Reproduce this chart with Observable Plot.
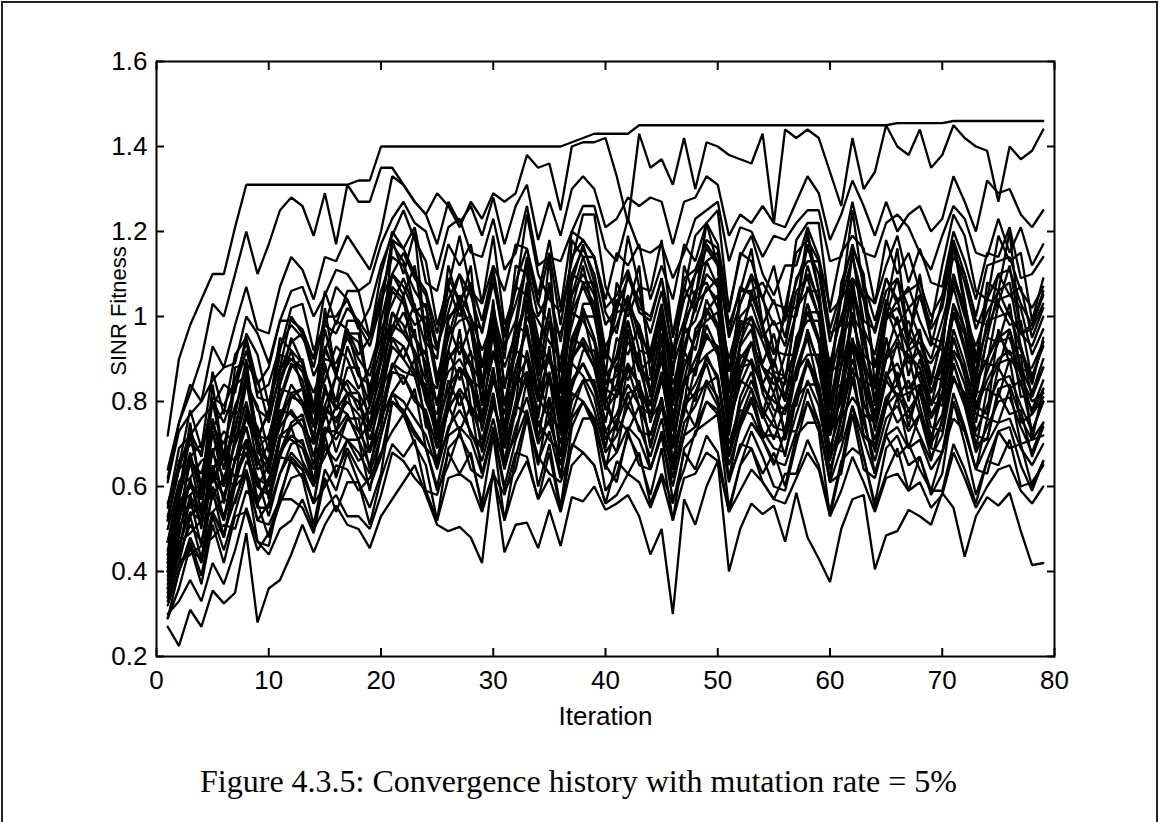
<!DOCTYPE html>
<html>
<head>
<meta charset="utf-8">
<script src="https://cdn.jsdelivr.net/npm/d3@7"></script>
<script src="https://cdn.jsdelivr.net/npm/@observablehq/plot@0.6"></script>
<style>
html,body{margin:0;padding:0;background:#fff;}
#page{position:relative;width:1159px;height:822px;overflow:hidden;background:#fff;}
#chart{position:absolute;left:0;top:0;}
#border{position:absolute;left:1px;top:1px;width:1153px;height:830px;border:2px solid #222;border-bottom:none;pointer-events:none;}
#caption{position:absolute;left:0;width:1157px;top:765px;line-height:32px;text-align:center;font-family:"Liberation Serif","Times New Roman",serif;font-size:32px;color:#000;white-space:nowrap;}
</style>
</head>
<body>
<div id="page">
  <div id="chart"></div>
  <div id="border"></div>
  <div id="caption"></div>
</div>
<script>
// ---- tick values / labels ----
const xTicks = [0, 10, 20, 30, 40, 50, 60, 70, 80];
const xTickLabels = ["0", "10", "20", "30", "40", "50", "60", "70", "80"];
const yTicks = [0.2, 0.4, 0.6, 0.8, 1.0, 1.2, 1.4, 1.6];
const yTickLabels = ["0.2", "0.4", "0.6", "0.8", "1", "1.2", "1.4", "1.6"];
const xTitle = "Iteration";
const yTitle = "SINR Fitness";
const captionText = "Figure 4.3.5: Convergence history with mutation rate = 5%";

// iterations 1..79
const iterations = d3.range(1, 80);

// ---- fitness histories (one array per population member) ----
const best = [0.72,0.90,0.98,1.04,1.10,1.10,1.21,1.31,1.31,1.31, 1.31,1.31,1.31,1.31,1.31,1.31,1.31,1.32,1.32,1.40,
  1.40,1.40,1.40,1.40,1.40,1.40,1.40,1.40,1.40,1.40, 1.40,1.40,1.40,1.40,1.40,1.40,1.41,1.42,1.43,1.43,
  1.43,1.43,1.45,1.45,1.45,1.45,1.45,1.45,1.45,1.45, 1.45,1.45,1.45,1.45,1.45,1.45,1.45,1.45,1.45,1.45,
  1.45,1.45,1.45,1.45,1.45,1.455,1.455,1.455,1.455,1.455, 1.46,1.46,1.46,1.46,1.46,1.46,1.46,1.46,1.46];
const s02 = [0.62,0.75,0.82,0.90,1.03,1.00,1.10,1.20,1.10,1.17, 1.25,1.28,1.26,1.19,1.29,1.17,1.31,1.27,1.27,1.35,
  1.35,1.31,1.27,1.24,1.29,1.26,1.21,1.27,1.23,1.29, 1.27,1.29,1.38,1.35,1.36,1.25,1.40,1.41,1.41,1.42,
  1.33,1.22,1.43,1.35,1.37,1.31,1.42,1.30,1.41,1.40, 1.38,1.37,1.36,1.43,1.22,1.44,1.42,1.44,1.42,1.34,
  1.26,1.42,1.30,1.34,1.45,1.40,1.38,1.44,1.35,1.38, 1.45,1.42,1.40,1.39,1.27,1.40,1.37,1.39,1.44];
const s03 = [0.64,0.75,0.84,0.80,0.93,0.88,0.98,1.07,0.97,0.96, 1.07,1.14,1.11,1.04,1.14,1.13,1.19,1.15,1.11,1.20,
  1.33,1.31,1.27,1.24,1.17,1.27,1.22,1.26,1.19,1.28, 1.17,1.26,1.31,1.18,1.27,1.19,1.30,1.33,1.30,1.21,
  1.23,1.28,1.26,1.28,1.27,1.17,1.27,1.28,1.33,1.31, 1.19,1.24,1.22,1.26,1.22,1.21,1.27,1.33,1.29,1.18,
  1.24,1.32,1.26,1.19,1.27,1.20,1.24,1.26,1.20,1.23, 1.33,1.27,1.20,1.32,1.29,1.30,1.24,1.21,1.25];
const s04 = [0.61,0.73,0.77,0.80,0.85,0.88,0.89,1.00,0.96,0.89, 0.99,1.06,1.07,1.00,1.05,1.11,1.10,1.06,1.08,1.17,
  1.23,1.27,1.22,1.20,1.11,1.21,1.23,1.15,1.14,1.23, 1.11,1.15,1.26,1.12,1.14,1.13,1.20,1.26,1.26,1.16,
  1.13,1.23,1.16,1.15,1.17,1.09,1.15,1.23,1.25,1.27, 1.13,1.21,1.20,1.14,1.19,1.18,1.22,1.25,1.25,1.13,
  1.14,1.27,1.15,1.14,1.22,1.24,1.21,1.15,1.11,1.19, 1.26,1.23,1.15,1.14,1.23,1.15,1.21,1.12,1.17];
const s05 = [0.56,0.65,0.78,0.69,0.87,0.77,0.91,0.95,0.84,0.88, 0.99,0.99,0.97,0.90,1.06,0.98,1.06,1.06,0.95,1.10,
  1.20,1.16,1.21,1.08,1.06,1.17,1.12,1.17,1.03,1.12, 1.06,1.17,1.16,1.05,1.18,1.02,1.20,1.18,1.14,1.04,
  1.15,1.12,1.17,1.04,1.12,1.04,1.17,1.13,1.22,1.17, 1.02,1.14,1.19,1.10,1.05,1.12,1.12,1.21,1.14,1.02,
  1.15,1.19,1.16,1.03,1.12,1.19,1.08,1.16,1.08,1.07, 1.20,1.13,1.04,1.15,1.14,1.21,1.09,1.10,1.14];
const s06 = [0.53,0.64,0.73,0.67,0.81,0.79,0.85,0.94,0.81,0.80, 0.88,1.00,0.96,0.88,1.00,1.00,1.04,0.98,0.93,1.03,
  1.18,1.16,1.10,1.06,0.96,1.09,1.04,1.08,0.99,1.11, 0.96,1.08,1.16,1.03,1.15,0.98,1.14,1.18,1.14,1.02,
  1.05,1.11,1.02,1.00,1.09,0.96,1.09,1.11,1.18,1.16, 0.98,1.06,1.06,1.08,1.03,1.02,1.15,1.18,1.13,0.97,
  1.06,1.17,1.08,0.99,1.09,1.04,1.06,1.08,1.00,1.05, 1.18,1.10,1.00,1.12,1.13,1.14,1.06,1.02,1.07];
const s07 = [0.52,0.64,0.67,0.70,0.74,0.78,0.77,0.89,0.85,0.75, 0.87,0.94,0.96,0.86,0.92,0.99,0.97,0.91,0.95,1.04,
  1.10,1.15,1.09,1.05,0.93,1.01,1.10,0.99,0.97,1.10, 0.93,0.99,1.14,1.03,0.98,0.96,1.05,1.14,1.14,1.01,
  0.96,1.10,1.01,0.99,1.09,0.91,0.99,1.10,1.13,1.15, 0.96,1.07,1.05,0.98,1.04,0.95,1.09,1.13,1.13,0.96,
  0.98,1.15,0.99,0.97,1.09,1.03,1.07,0.99,0.93,1.04, 1.14,1.10,0.99,0.98,1.10,1.05,1.07,0.95,1.02];
const s08 = [0.47,0.57,0.72,0.60,0.80,0.67,0.84,0.86,0.72,0.77, 0.91,0.90,0.87,0.78,0.97,0.86,0.96,0.96,0.82,0.99,
  1.10,1.05,1.12,0.95,0.92,1.07,1.00,1.07,0.88,1.00, 0.92,1.07,1.05,0.91,1.08,0.87,1.10,1.08,1.03,0.90,
  1.04,1.00,1.07,0.90,1.00,0.90,1.07,1.01,1.13,1.07, 0.87,1.03,1.09,0.97,0.91,1.00,1.00,1.12,1.03,0.87,
  1.04,1.09,1.05,0.88,1.00,1.09,0.95,1.05,0.95,0.94, 1.10,1.01,0.90,1.04,1.03,1.12,0.96,0.97,1.03];
const s09 = [0.47,0.52,0.67,0.60,0.75,0.67,0.73,0.87,0.72,0.71, 0.84,0.92,0.83,0.78,0.92,0.87,0.96,0.94,0.83,0.93,
  1.10,1.07,1.01,1.03,0.84,1.00,1.02,0.98,0.88,1.02, 0.84,0.92,1.07,0.92,1.01,0.87,1.05,1.10,1.05,0.90,
  1.01,1.02,0.98,0.89,1.00,0.84,0.93,1.02,1.10,1.07, 0.87,0.96,1.04,1.05,0.92,0.91,1.01,1.10,1.04,0.85,
  0.96,1.09,1.04,0.88,1.00,1.02,0.96,0.91,0.89,0.94, 1.10,1.01,0.89,0.97,1.04,1.05,1.02,0.91,0.97];
const s10 = [0.47,0.60,0.62,0.66,0.68,0.73,0.70,0.84,0.79,0.68, 0.80,0.88,0.90,0.79,0.85,0.93,0.90,0.83,0.88,0.97,
  1.03,1.09,1.02,0.98,0.84,0.92,1.03,0.91,0.88,1.03, 0.84,0.91,1.08,0.95,0.89,0.87,0.98,1.08,1.08,0.92,
  0.87,1.03,0.92,0.91,1.02,0.81,0.91,1.03,1.06,1.09, 0.87,0.99,0.98,0.89,0.96,0.85,1.02,1.06,1.06,0.87,
  0.89,1.09,0.91,0.88,1.02,0.95,0.99,0.91,0.84,0.96, 1.08,1.03,0.91,0.89,1.03,0.98,0.99,0.85,0.94];
const s11 = [0.44,0.56,0.61,0.57,0.73,0.64,0.74,0.85,0.69,0.72, 0.81,0.89,0.85,0.74,0.88,0.80,0.93,0.86,0.84,0.89,
  1.07,1.04,0.90,0.92,0.79,0.96,0.99,1.00,0.83,0.99, 0.79,0.94,1.04,0.87,0.91,0.82,1.01,1.07,1.01,0.86,
  0.90,0.99,0.88,0.85,0.96,0.79,0.96,0.99,1.07,1.04, 0.82,0.98,1.00,0.94,0.87,0.86,0.92,1.07,1.00,0.80,
  0.92,1.06,0.94,0.83,1.01,0.99,0.92,0.94,0.85,0.95, 1.07,0.97,0.85,0.99,1.00,1.01,0.92,0.86,0.93];
const s12 = [0.42,0.52,0.66,0.54,0.73,0.60,0.77,0.79,0.65,0.70, 0.83,0.82,0.79,0.71,0.89,0.78,0.88,0.88,0.74,0.90,
  1.01,0.96,1.03,0.86,0.83,0.98,0.91,0.98,0.79,0.91, 0.83,0.98,0.96,0.82,0.99,0.78,1.01,0.99,0.94,0.81,
  0.95,0.91,0.98,0.81,0.91,0.81,0.98,0.92,1.04,0.98, 0.78,0.94,1.00,0.88,0.82,0.91,0.91,1.03,0.94,0.78,
  0.95,1.00,0.96,0.79,0.91,1.00,0.86,0.96,0.86,0.85, 1.01,0.92,0.81,0.95,0.94,1.03,0.87,0.88,0.94];
const s13 = [0.44,0.56,0.58,0.61,0.64,0.68,0.66,0.78,0.74,0.64, 0.75,0.82,0.83,0.74,0.79,0.86,0.84,0.78,0.82,0.90,
  0.96,1.01,0.95,0.91,0.79,0.87,0.90,0.85,0.83,0.96, 0.79,0.85,1.00,0.94,0.84,0.82,0.91,1.00,1.00,0.87,
  0.82,0.96,0.87,0.90,0.95,0.77,0.85,0.96,0.99,1.01, 0.82,0.93,0.97,0.84,0.90,0.81,0.95,0.99,0.99,0.82,
  0.84,1.01,0.85,0.83,0.95,0.84,0.93,0.85,0.79,0.90, 1.00,0.96,0.85,0.90,0.96,0.91,0.93,0.81,0.88];
const s14 = [0.41,0.52,0.61,0.53,0.63,0.60,0.70,0.80,0.69,0.63, 0.76,0.84,0.80,0.74,0.83,0.78,0.82,0.80,0.74,0.84,
  1.01,0.98,0.91,0.80,0.73,0.90,0.93,0.88,0.77,0.87, 0.73,0.88,0.98,0.81,0.91,0.76,0.95,1.01,0.89,0.80,
  0.84,0.99,0.88,0.79,0.90,0.73,0.90,0.87,1.01,0.98, 0.76,0.86,0.94,0.88,0.86,0.80,0.91,1.01,0.94,0.74,
  0.80,1.00,0.88,0.77,0.90,0.93,0.91,0.88,0.79,0.84, 1.01,0.96,0.79,0.87,0.94,0.95,0.86,0.80,0.82];
const s15 = [0.39,0.48,0.62,0.50,0.69,0.56,0.72,0.74,0.60,0.65, 0.78,0.77,0.74,0.65,0.84,0.73,0.82,0.82,0.68,0.84,
  0.95,0.90,0.97,0.80,0.77,0.92,0.85,0.92,0.73,0.85, 0.77,0.92,0.90,0.76,0.93,0.72,0.95,0.93,0.88,0.75,
  0.89,0.85,0.92,0.75,0.85,0.75,0.92,0.86,0.98,0.92, 0.72,0.88,0.94,0.82,0.76,0.85,0.85,0.97,0.88,0.72,
  0.89,0.94,0.90,0.73,0.85,0.94,0.80,0.90,0.80,0.79, 0.95,0.86,0.75,0.89,0.88,0.97,0.81,0.82,0.88];
const s16 = [0.40,0.45,0.58,0.51,0.65,0.57,0.66,0.71,0.62,0.60, 0.72,0.74,0.76,0.67,0.79,0.75,0.82,0.80,0.71,0.80,
  0.95,0.93,0.87,0.82,0.71,0.80,0.88,0.84,0.75,0.88, 0.71,0.84,0.87,0.78,0.87,0.73,0.90,0.95,0.90,0.83,
  0.81,0.88,0.84,0.76,0.80,0.71,0.85,0.88,0.95,0.93, 0.73,0.88,0.89,0.84,0.78,0.77,0.87,0.95,0.83,0.72,
  0.82,0.94,0.84,0.75,0.85,0.81,0.82,0.84,0.76,0.81, 0.95,0.87,0.82,0.83,0.89,0.90,0.87,0.77,0.83];
const s17 = [0.40,0.51,0.53,0.56,0.58,0.62,0.60,0.71,0.67,0.58, 0.68,0.75,0.77,0.67,0.72,0.79,0.77,0.71,0.75,0.83,
  0.88,0.93,0.87,0.83,0.71,0.79,0.88,0.77,0.75,0.88, 0.71,0.77,0.92,0.81,0.76,0.74,0.83,0.92,0.92,0.79,
  0.74,0.88,0.79,0.77,0.87,0.69,0.77,0.88,0.91,0.93, 0.74,0.85,0.83,0.76,0.82,0.73,0.87,0.91,0.91,0.74,
  0.76,0.93,0.77,0.75,0.87,0.81,0.85,0.77,0.71,0.82, 0.92,0.88,0.77,0.76,0.88,0.83,0.85,0.73,0.80];
const s18 = [0.36,0.45,0.57,0.46,0.64,0.52,0.67,0.68,0.56,0.61, 0.72,0.71,0.69,0.61,0.78,0.68,0.76,0.76,0.64,0.78,
  0.89,0.84,0.90,0.74,0.72,0.85,0.79,0.85,0.68,0.79, 0.72,0.85,0.84,0.71,0.86,0.67,0.89,0.86,0.81,0.69,
  0.83,0.79,0.85,0.69,0.79,0.69,0.85,0.80,0.91,0.85, 0.67,0.81,0.87,0.77,0.71,0.79,0.79,0.90,0.81,0.67,
  0.83,0.87,0.84,0.68,0.79,0.87,0.74,0.84,0.74,0.73, 0.89,0.80,0.69,0.83,0.81,0.90,0.75,0.77,0.81];
const s19 = [0.36,0.46,0.54,0.52,0.60,0.53,0.62,0.70,0.57,0.62, 0.67,0.74,0.66,0.61,0.73,0.73,0.77,0.71,0.65,0.74,
  0.89,0.87,0.86,0.76,0.65,0.79,0.82,0.72,0.69,0.82, 0.65,0.78,0.87,0.72,0.75,0.67,0.84,0.89,0.84,0.71,
  0.75,0.82,0.83,0.70,0.79,0.65,0.79,0.82,0.89,0.80, 0.67,0.76,0.83,0.72,0.72,0.71,0.81,0.89,0.83,0.66,
  0.76,0.88,0.72,0.69,0.79,0.82,0.76,0.83,0.70,0.75, 0.89,0.81,0.70,0.71,0.83,0.84,0.76,0.71,0.72];
const s20 = [0.37,0.47,0.49,0.52,0.54,0.57,0.56,0.66,0.62,0.53, 0.63,0.70,0.71,0.62,0.67,0.73,0.71,0.66,0.69,0.76,
  0.82,0.86,0.81,0.77,0.66,0.73,0.82,0.72,0.70,0.82, 0.66,0.72,0.85,0.75,0.71,0.68,0.77,0.85,0.85,0.73,
  0.68,0.82,0.73,0.72,0.81,0.64,0.72,0.82,0.84,0.86, 0.68,0.78,0.77,0.71,0.76,0.67,0.81,0.84,0.84,0.68,
  0.71,0.86,0.72,0.70,0.81,0.75,0.78,0.72,0.66,0.76, 0.85,0.82,0.72,0.71,0.82,0.77,0.78,0.67,0.74];
const s21 = [0.34,0.42,0.53,0.43,0.59,0.48,0.62,0.63,0.52,0.56, 0.67,0.66,0.64,0.56,0.72,0.62,0.71,0.71,0.59,0.72,
  0.82,0.77,0.83,0.69,0.66,0.79,0.73,0.79,0.63,0.73, 0.66,0.79,0.77,0.65,0.80,0.62,0.82,0.80,0.75,0.64,
  0.76,0.73,0.79,0.64,0.73,0.64,0.79,0.74,0.84,0.79, 0.62,0.75,0.81,0.71,0.65,0.73,0.73,0.83,0.75,0.62,
  0.76,0.81,0.77,0.63,0.73,0.81,0.69,0.77,0.69,0.68, 0.82,0.74,0.64,0.76,0.75,0.83,0.70,0.71,0.75];
const s22 = [0.34,0.42,0.45,0.43,0.54,0.48,0.60,0.63,0.52,0.51, 0.57,0.67,0.64,0.56,0.70,0.63,0.69,0.64,0.60,0.67,
  0.80,0.78,0.73,0.69,0.60,0.72,0.74,0.71,0.63,0.74, 0.60,0.71,0.78,0.66,0.73,0.62,0.76,0.80,0.76,0.65,
  0.68,0.74,0.71,0.64,0.72,0.60,0.72,0.74,0.80,0.78, 0.62,0.69,0.75,0.71,0.66,0.65,0.73,0.80,0.75,0.61,
  0.69,0.79,0.71,0.63,0.72,0.74,0.69,0.71,0.64,0.68, 0.80,0.73,0.64,0.70,0.75,0.76,0.69,0.65,0.70];
const s23 = [0.33,0.42,0.44,0.46,0.48,0.51,0.50,0.59,0.56,0.48, 0.56,0.62,0.63,0.56,0.60,0.65,0.64,0.59,0.62,0.68,
  0.73,0.77,0.72,0.69,0.59,0.65,0.73,0.64,0.62,0.73, 0.59,0.64,0.76,0.67,0.63,0.61,0.69,0.76,0.76,0.65,
  0.61,0.73,0.65,0.64,0.72,0.57,0.64,0.73,0.75,0.77, 0.61,0.70,0.69,0.63,0.68,0.60,0.72,0.75,0.75,0.61,
  0.63,0.77,0.64,0.62,0.72,0.67,0.70,0.64,0.59,0.68, 0.76,0.73,0.64,0.63,0.73,0.69,0.70,0.60,0.66];
const s24 = [0.29,0.36,0.46,0.37,0.51,0.42,0.53,0.54,0.45,0.49, 0.57,0.57,0.55,0.49,0.62,0.54,0.61,0.61,0.51,0.62,
  0.70,0.67,0.71,0.59,0.58,0.68,0.63,0.68,0.55,0.63, 0.58,0.68,0.67,0.57,0.68,0.54,0.70,0.68,0.65,0.56,
  0.66,0.63,0.68,0.56,0.63,0.56,0.68,0.64,0.72,0.68, 0.54,0.65,0.69,0.61,0.57,0.63,0.63,0.71,0.65,0.54,
  0.66,0.69,0.67,0.55,0.63,0.69,0.59,0.67,0.59,0.59, 0.70,0.64,0.56,0.66,0.65,0.71,0.60,0.61,0.65];
const s25 = [0.30,0.33,0.38,0.33,0.42,0.37,0.45,0.55,0.47,0.44, 0.50,0.52,0.57,0.50,0.55,0.58,0.53,0.53,0.50,0.58,
  0.68,0.66,0.62,0.59,0.52,0.62,0.63,0.61,0.54,0.63, 0.52,0.61,0.66,0.57,0.62,0.54,0.65,0.68,0.65,0.56,
  0.58,0.63,0.61,0.55,0.62,0.52,0.62,0.63,0.68,0.66, 0.54,0.59,0.64,0.61,0.57,0.56,0.62,0.68,0.64,0.53,
  0.59,0.67,0.61,0.54,0.62,0.63,0.59,0.61,0.55,0.58, 0.68,0.62,0.55,0.60,0.64,0.65,0.59,0.56,0.60];
const s26 = [0.42,0.57,0.68,0.57,0.76,0.64,0.77,0.90,0.68,0.66, 0.84,0.95,0.89,0.74,0.93,0.86,0.97,0.87,0.79,0.91,
  1.17,1.13,1.02,0.93,0.73,0.99,1.04,0.97,0.80,1.04, 0.73,0.97,1.13,0.86,1.02,0.77,1.08,1.17,1.08,0.84,
  0.91,1.04,0.97,0.82,0.99,0.73,0.99,1.04,1.17,1.13, 0.77,0.93,1.06,0.97,0.86,0.84,1.02,1.17,1.06,0.75,
  0.93,1.15,0.97,0.80,0.99,1.04,0.93,0.97,0.82,0.91, 1.17,1.02,0.82,0.95,1.06,1.08,0.93,0.84,0.95];
const s27 = [0.40,0.55,0.55,0.60,0.61,0.67,0.62,0.77,0.72,0.57, 0.71,0.81,0.83,0.70,0.76,0.86,0.82,0.73,0.79,0.89,
  0.97,1.05,0.95,0.89,0.69,0.81,0.97,0.79,0.75,0.97, 0.69,0.79,1.03,0.85,0.77,0.73,0.89,1.03,1.03,0.81,
  0.73,0.97,0.81,0.79,0.95,0.65,0.79,0.97,1.01,1.05, 0.73,0.91,0.89,0.77,0.87,0.71,0.95,1.01,1.01,0.73,
  0.77,1.05,0.79,0.75,0.95,0.85,0.91,0.79,0.69,0.87, 1.03,0.97,0.79,0.77,0.97,0.89,0.91,0.71,0.83];
const s28 = [0.45,0.58,0.75,0.58,0.84,0.66,0.88,0.89,0.71,0.78, 0.95,0.92,0.89,0.77,1.02,0.86,0.99,0.99,0.80,1.02,
  1.18,1.10,1.20,0.94,0.90,1.12,1.02,1.12,0.84,1.02, 0.90,1.12,1.10,0.88,1.14,0.82,1.18,1.14,1.06,0.86,
  1.08,1.02,1.12,0.86,1.02,0.86,1.12,1.04,1.22,1.12, 0.82,1.06,1.16,0.98,0.88,1.02,1.02,1.20,1.06,0.82,
  1.08,1.16,1.10,0.84,1.02,1.16,0.94,1.10,0.94,0.92, 1.18,1.04,0.86,1.08,1.06,1.20,0.96,0.98,1.06];
const s29 = [0.29,0.40,0.47,0.39,0.53,0.45,0.54,0.63,0.47,0.46, 0.58,0.66,0.62,0.51,0.64,0.59,0.68,0.61,0.55,0.63,
  0.80,0.77,0.70,0.65,0.52,0.69,0.72,0.67,0.56,0.72, 0.52,0.67,0.77,0.60,0.70,0.55,0.74,0.80,0.74,0.59,
  0.63,0.72,0.67,0.58,0.69,0.52,0.69,0.72,0.80,0.77, 0.55,0.65,0.73,0.67,0.60,0.59,0.70,0.80,0.73,0.53,
  0.65,0.79,0.67,0.56,0.69,0.72,0.65,0.67,0.58,0.63, 0.80,0.70,0.58,0.66,0.73,0.74,0.65,0.59,0.66];
const s30 = [0.55,0.69,0.72,0.76,0.79,0.84,0.82,0.96,0.91,0.79, 0.92,1.02,1.03,0.92,0.98,1.07,1.04,0.97,1.02,1.12,
  1.19,1.25,1.18,1.13,0.98,1.07,1.19,1.06,1.03,1.19, 0.98,1.06,1.24,1.10,1.04,1.01,1.13,1.24,1.24,1.07,
  1.01,1.19,1.07,1.06,1.18,0.95,1.06,1.19,1.22,1.25, 1.01,1.15,1.13,1.04,1.12,0.99,1.18,1.22,1.22,1.01,
  1.04,1.25,1.06,1.03,1.18,1.10,1.15,1.06,0.98,1.12, 1.24,1.19,1.06,1.04,1.19,1.13,1.15,0.99,1.09];
const s31 = [0.50,0.61,0.66,0.63,0.74,0.70,0.79,0.85,0.78,0.76, 0.86,0.90,0.88,0.82,0.90,0.89,0.95,0.90,0.86,0.95,
  1.06,1.03,0.98,1.00,0.86,0.95,1.05,1.00,0.92,0.99, 0.88,0.96,1.04,0.99,0.94,0.90,1.02,1.12,1.00,0.93,
  0.98,1.05,0.95,0.92,1.03,0.88,0.97,1.06,1.08,1.02, 0.90,1.00,1.03,0.95,0.99,0.93,1.06,1.09,1.00,0.89,
  1.00,1.07,0.97,0.91,1.04,0.98,1.02,0.95,0.90,0.99, 1.09,1.00,0.93,1.01,1.06,1.00,0.96,0.93,1.00];
const s32 = [0.43,0.55,0.60,0.57,0.68,0.62,0.70,0.76,0.70,0.66, 0.77,0.81,0.80,0.72,0.82,0.80,0.85,0.82,0.77,0.86,
  0.98,0.96,0.92,0.85,0.80,0.90,0.94,0.89,0.84,0.92, 0.80,0.88,0.97,0.86,0.90,0.80,0.93,1.02,0.95,0.84,
  0.86,0.94,0.90,0.82,0.92,0.76,0.88,0.95,1.02,0.97, 0.80,0.90,0.94,0.88,0.84,0.86,0.92,1.03,0.95,0.79,
  0.88,0.99,0.90,0.81,0.90,0.95,0.89,0.92,0.82,0.88, 1.03,0.93,0.84,0.90,0.95,0.97,0.88,0.82,0.90];
const s33 = [0.38,0.50,0.57,0.52,0.62,0.58,0.66,0.74,0.64,0.66, 0.74,0.78,0.74,0.70,0.78,0.76,0.80,0.77,0.73,0.82,
  0.93,0.90,0.86,0.84,0.74,0.83,0.88,0.85,0.76,0.86, 0.74,0.85,0.90,0.80,0.86,0.75,0.90,0.94,0.88,0.78,
  0.82,0.89,0.84,0.77,0.86,0.70,0.84,0.90,0.96,0.91, 0.75,0.84,0.90,0.83,0.80,0.78,0.88,0.96,0.89,0.74,
  0.84,0.95,0.85,0.76,0.86,0.89,0.83,0.87,0.77,0.82, 0.97,0.89,0.78,0.85,0.90,0.92,0.84,0.78,0.85];
const s34 = [0.35,0.44,0.51,0.47,0.58,0.52,0.62,0.68,0.60,0.58, 0.68,0.72,0.70,0.64,0.74,0.71,0.76,0.73,0.68,0.76,
  0.87,0.86,0.80,0.78,0.69,0.78,0.83,0.79,0.71,0.80, 0.69,0.80,0.86,0.74,0.81,0.70,0.85,0.89,0.83,0.73,
  0.77,0.84,0.79,0.72,0.81,0.66,0.80,0.84,0.90,0.86, 0.70,0.79,0.85,0.78,0.74,0.73,0.82,0.90,0.84,0.69,
  0.78,0.90,0.80,0.71,0.81,0.84,0.78,0.82,0.72,0.77, 0.91,0.84,0.73,0.79,0.85,0.86,0.79,0.73,0.80];
const s35 = [0.52,0.66,0.70,0.68,0.80,0.75,0.83,0.92,0.82,0.84, 0.93,0.98,0.95,0.90,0.98,0.96,1.02,0.99,0.95,1.06,
  1.14,1.12,1.06,1.02,0.92,1.04,1.10,1.05,0.96,1.08, 0.95,1.03,1.12,1.00,1.06,0.94,1.10,1.16,1.10,0.98,
  1.02,1.09,1.04,0.96,1.06,0.92,1.04,1.10,1.16,1.12, 0.95,1.03,1.10,1.04,0.98,0.99,1.08,1.16,1.10,0.94,
  1.04,1.14,1.04,0.96,1.06,1.09,1.02,1.05,0.97,1.02, 1.16,1.08,0.97,1.04,1.10,1.11,1.03,0.98,1.05];
const s36 = [0.32,0.40,0.48,0.42,0.54,0.49,0.57,0.64,0.55,0.55, 0.63,0.68,0.65,0.60,0.69,0.66,0.71,0.68,0.63,0.72,
  0.82,0.80,0.76,0.72,0.64,0.74,0.78,0.73,0.66,0.76, 0.64,0.74,0.81,0.70,0.76,0.65,0.80,0.85,0.78,0.68,
  0.72,0.79,0.74,0.67,0.76,0.62,0.75,0.79,0.85,0.81, 0.65,0.74,0.80,0.73,0.69,0.68,0.77,0.85,0.79,0.64,
  0.73,0.85,0.75,0.66,0.76,0.79,0.73,0.77,0.67,0.72, 0.86,0.79,0.68,0.74,0.80,0.81,0.74,0.68,0.75];
const lowest = [0.27,0.225,0.31,0.27,0.355,0.325,0.35,0.49,0.28,0.36, 0.38,0.44,0.51,0.445,0.51,0.555,0.51,0.50,0.455,0.53,
  0.57,0.61,0.65,0.58,0.51,0.495,0.505,0.48,0.42,0.64, 0.445,0.51,0.515,0.455,0.545,0.46,0.575,0.565,0.60,0.545,
  0.56,0.58,0.53,0.44,0.50,0.30,0.57,0.51,0.60,0.66, 0.40,0.50,0.56,0.535,0.555,0.47,0.585,0.48,0.43,0.375,
  0.50,0.57,0.58,0.405,0.485,0.495,0.545,0.53,0.51,0.585, 0.55,0.435,0.53,0.575,0.555,0.585,0.495,0.415,0.42];

const runs = [best, s02, s03, s04, s05, s06, s07, s08, s09, s10, s11, s12, s13, s14, s15,
  s16, s17, s18, s19, s20, s21, s22, s23, s24, s25, s26, s27, s28, s29, s30,
  s31, s32, s33, s34, s35, s36, lowest];

const table = runs.flatMap((vals, k) => vals.map((v, i) => ({iteration: iterations[i], fitness: v, run: k})));

const font = "'Liberation Sans', Arial, Helvetica, sans-serif";

const chart = Plot.plot({
  width: 1159,
  height: 740,
  marginLeft: 156,
  marginRight: 105,
  marginTop: 61,
  marginBottom: 84,
  style: {fontFamily: font, fontSize: "26px", color: "black", background: "white", overflow: "visible"},
  x: {domain: [0, 80], label: null},
  y: {domain: [0.2, 1.6], label: null},
  marks: [
    Plot.line(table, {x: "iteration", y: "fitness", z: "run", stroke: "black", strokeWidth: 2.3, strokeLinejoin: "miter"}),
    Plot.frame({stroke: "black", strokeWidth: 2}),
    // inward ticks on all four sides
    Plot.axisX(xTicks, {anchor: "bottom", tickSize: 8, dy: -8, tickFormat: () => "", label: null, strokeWidth: 2}),
    Plot.axisX(xTicks, {anchor: "top", tickSize: 8, dy: 8, tickFormat: () => "", label: null, strokeWidth: 2}),
    Plot.axisY(yTicks, {anchor: "left", tickSize: 8, dx: 8, tickFormat: () => "", label: null, strokeWidth: 2}),
    Plot.axisY(yTicks, {anchor: "right", tickSize: 8, dx: -8, tickFormat: () => "", label: null, strokeWidth: 2}),
    // tick labels
    Plot.axisX(xTicks, {anchor: "bottom", tickSize: 0, tickPadding: 14, tickFormat: (d, i) => xTickLabels[i], label: null, fontSize: 26}),
    Plot.axisY(yTicks, {anchor: "left", tickSize: 0, tickPadding: 9, tickFormat: (d, i) => yTickLabels[i], label: null, fontSize: 26}),
    // axis titles
    Plot.text([xTitle], {frameAnchor: "bottom", dy: 60, lineAnchor: "middle", textAnchor: "middle", fontSize: 26, fill: "black"}),
    Plot.text([yTitle], {frameAnchor: "left", dx: -38, dy: -48, rotate: -90, textAnchor: "middle", lineAnchor: "middle", fontSize: 22, fill: "black"})
  ]
});

document.getElementById("chart").appendChild(chart);
document.getElementById("caption").textContent = captionText;
</script>
</body>
</html>
